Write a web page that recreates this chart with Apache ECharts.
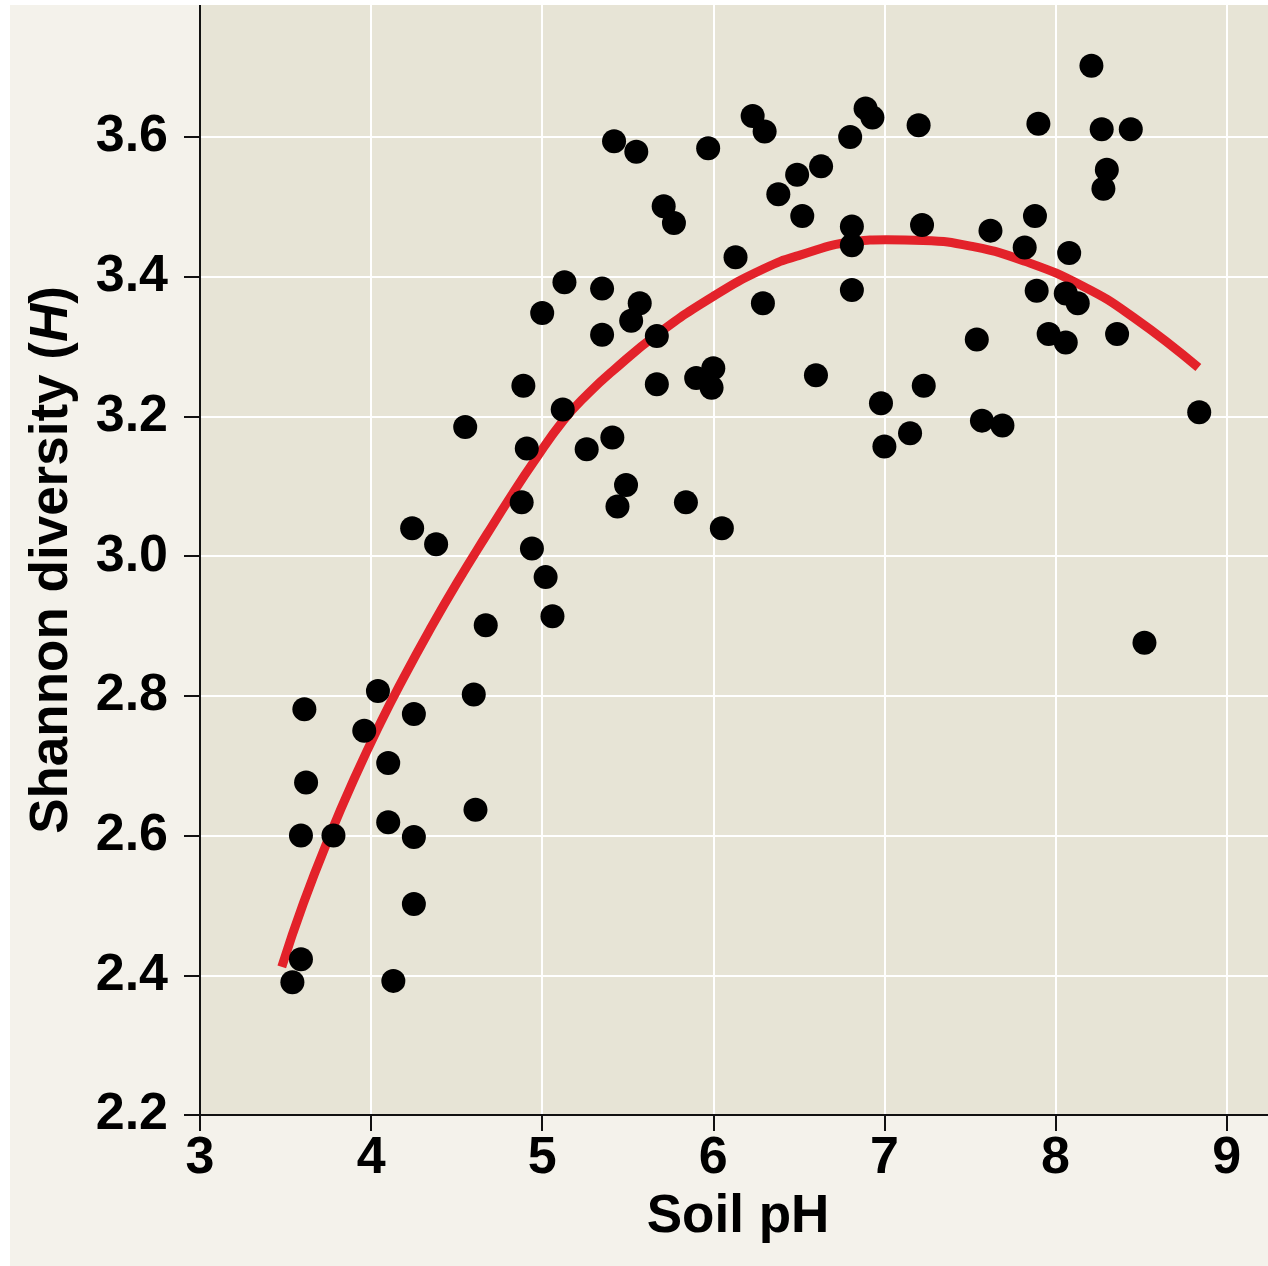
<!DOCTYPE html>
<html>
<head>
<meta charset="utf-8">
<script src="https://cdn.jsdelivr.net/npm/echarts@6/dist/echarts.min.js"></script>
<style>
  html, body { margin: 0; padding: 0; background: #ffffff; }
  #chart { position: absolute; left: 10px; top: 5px; width: 1258px; height: 1261px; }
</style>
</head>
<body>
<div id="chart"></div>
<script>
// soil pH vs Shannon diversity, one entry per sampled site
const soilPH = [
  5.42, 5.55, 5.97, 5.71, 5.77, 6.13, 5.13, 5.35, 5.57, 5.00, 5.52, 5.35, 5.67, 4.89, 5.67, 5.90,
  6.00, 5.99, 5.12, 4.55, 4.91, 5.26, 5.41, 5.49, 5.44, 4.88, 5.84, 6.05, 4.24, 4.38, 4.94,
  5.02, 5.06, 4.67, 4.04, 4.60, 3.61, 4.25, 3.96, 4.10, 3.62, 4.10, 4.61, 3.59, 3.78, 4.25,
  4.25, 3.59, 3.54, 4.13,
  6.23, 6.30, 6.89, 6.93, 6.80, 7.20, 7.90, 6.63, 6.49, 6.38, 6.52, 6.81, 6.81, 7.22, 7.62,
  7.88, 7.82, 8.08, 6.81, 6.29, 7.89, 8.06, 8.13, 7.54, 7.96, 8.06, 8.36, 6.60, 6.98, 7.23,
  7.57, 7.69, 7.15, 7.00,
  8.21, 8.27, 8.44, 8.30, 8.28, 8.84, 8.52
];
const shannonH = [
  3.594, 3.579, 3.584, 3.501, 3.477, 3.428, 3.392, 3.383, 3.362, 3.348, 3.337, 3.317, 3.315, 3.244, 3.246, 3.255,
  3.269, 3.241, 3.210, 3.185, 3.154, 3.153, 3.170, 3.102, 3.071, 3.077, 3.077, 3.040, 3.040, 3.017, 3.011,
  2.970, 2.914, 2.901, 2.807, 2.802, 2.781, 2.774, 2.750, 2.704, 2.676, 2.619, 2.637, 2.600, 2.600, 2.598,
  2.502, 2.423, 2.390, 2.392,
  3.630, 3.608, 3.641, 3.628, 3.600, 3.617, 3.619, 3.558, 3.546, 3.518, 3.487, 3.472, 3.445, 3.474, 3.466,
  3.487, 3.442, 3.434, 3.381, 3.362, 3.380, 3.376, 3.362, 3.310, 3.318, 3.306, 3.318, 3.259, 3.219, 3.244,
  3.194, 3.187, 3.176, 3.157,
  3.702, 3.611, 3.611, 3.553, 3.526, 3.206, 2.876
];

// red fitted curve
const fitPH = [3.478, 3.604, 3.760, 3.906, 4.052, 4.188, 4.344, 4.500, 4.676, 4.831, 4.948, 5.123, 5.270,
  5.416, 5.669, 6.000, 6.292, 6.507, 6.818, 7.013, 7.227, 7.520, 7.822, 8.163, 8.455, 8.835];
const fitH = [2.412, 2.503, 2.601, 2.684, 2.760, 2.825, 2.895, 2.961, 3.031, 3.091, 3.134, 3.194, 3.233,
  3.266, 3.317, 3.372, 3.411, 3.431, 3.450, 3.453, 3.452, 3.443, 3.422, 3.386, 3.342, 3.270];

const xTicks = [3, 4, 5, 6, 7, 8, 9];
const yTicks = [2.2, 2.4, 2.6, 2.8, 3.0, 3.2, 3.4, 3.6];

const FONT = '"Liberation Sans", Arial, Helvetica, sans-serif';

const chart = echarts.init(document.getElementById('chart'));

const axisCommon = {
  axisLine: { show: true, onZero: false, lineStyle: { color: '#111', width: 2 } },
  axisTick: { show: true, inside: false, length: 16, lineStyle: { color: '#111', width: 2 } },
  splitLine: { show: true, lineStyle: { color: '#ffffff', width: 2 } },
  nameTextStyle: { color: '#000', fontSize: 53, fontWeight: 'bold', fontFamily: FONT }
};

chart.setOption({
  backgroundColor: '#f4f2eb',
  animation: false,
  grid: {
    left: 190, right: 0, top: 0, bottom: 151,
    show: true, backgroundColor: '#e7e4d6', borderWidth: 0,
    containLabel: false, outerBoundsMode: 'none'
  },
  xAxis: Object.assign({}, axisCommon, {
    type: 'value',
    min: 3, max: 9.242, interval: 1,
    name: 'Soil pH',
    nameLocation: 'middle',
    nameGap: 76,
    nameTextStyle: Object.assign({}, axisCommon.nameTextStyle, { padding: [0, 0, 0, 8] }),
    axisTick: Object.assign({}, axisCommon.axisTick, { customValues: xTicks }),
    axisLabel: {
      customValues: xTicks, margin: 18,
      color: '#000', fontSize: 52, fontWeight: 'bold', fontFamily: FONT
    }
  }),
  yAxis: Object.assign({}, axisCommon, {
    type: 'value',
    min: 2.2, max: 3.789, interval: 0.2,
    name: 'Shannon diversity ({it|H})',
    nameLocation: 'middle',
    nameRotate: 90,
    nameGap: 121,
    nameTextStyle: Object.assign({}, axisCommon.nameTextStyle, {
      rich: { it: { fontStyle: 'italic', fontWeight: 'bold', fontSize: 53, fontFamily: FONT, color: '#000' } }
    }),
    axisTick: Object.assign({}, axisCommon.axisTick, { customValues: yTicks }),
    axisLabel: {
      customValues: yTicks, margin: 32,
      formatter: v => v.toFixed(1),
      color: '#000', fontSize: 52, fontWeight: 'bold', fontFamily: FONT
    }
  }),
  series: [
    {
      type: 'line',
      data: fitPH.map((x, i) => [x, fitH[i]]),
      smooth: true,
      showSymbol: false,
      z: 2,
      lineStyle: { color: '#e3222a', width: 9, cap: 'butt' }
    },
    {
      type: 'scatter',
      data: soilPH.map((x, i) => [x, shannonH[i]]),
      symbol: 'circle',
      symbolSize: 24,
      z: 3,
      itemStyle: { color: '#000000', opacity: 1 }
    }
  ]
});
</script>
</body>
</html>
